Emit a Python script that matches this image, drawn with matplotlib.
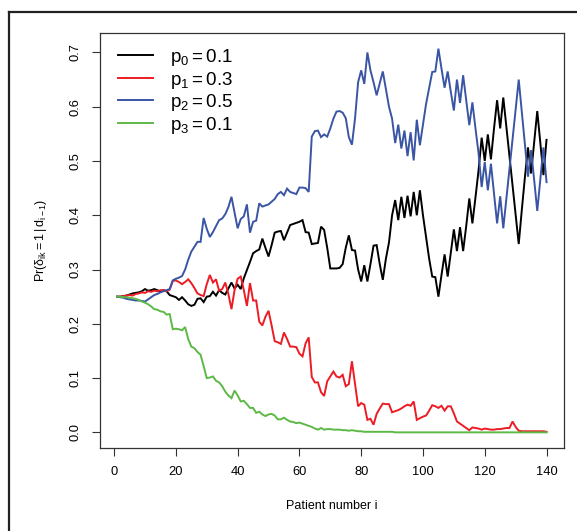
import matplotlib
matplotlib.use("Agg")
import matplotlib.pyplot as plt
from matplotlib.lines import Line2D
import numpy as np

plt.rcParams['font.family'] = ['Liberation Sans', 'DejaVu Sans']
plt.rcParams['mathtext.fontset'] = 'custom'
plt.rcParams['mathtext.rm'] = 'Liberation Sans'
plt.rcParams['mathtext.it'] = 'Liberation Sans:italic'
plt.rcParams['mathtext.default'] = 'regular'

patients = list(range(1, 141))

p0_black = [
    0.250, 0.250, 0.251, 0.252, 0.254, 0.256, 0.257, 0.258, 0.260, 0.264,
    0.261, 0.262, 0.264, 0.262, 0.259, 0.262, 0.260, 0.253, 0.251, 0.249,
    0.244, 0.249, 0.243, 0.236, 0.233, 0.235, 0.246, 0.247, 0.240, 0.250,
    0.251, 0.259, 0.252, 0.262, 0.257, 0.254, 0.265, 0.276, 0.265, 0.272,
    0.264, 0.284, 0.299, 0.314, 0.330, 0.334, 0.337, 0.357, 0.340, 0.324,
    0.345, 0.368, 0.370, 0.371, 0.354, 0.368, 0.382, 0.384, 0.386, 0.388,
    0.391, 0.369, 0.368, 0.347, 0.348, 0.349, 0.379, 0.373, 0.340, 0.302,
    0.302, 0.302, 0.303, 0.310, 0.340, 0.363, 0.336, 0.335, 0.300, 0.278,
    0.308, 0.278, 0.310, 0.344, 0.345, 0.310, 0.281, 0.320, 0.350, 0.400,
    0.428, 0.391, 0.434, 0.395, 0.436, 0.398, 0.443, 0.400, 0.446, 0.400,
    0.360, 0.320, 0.287, 0.286, 0.250, 0.290, 0.328, 0.287, 0.330, 0.374,
    0.334, 0.378, 0.334, 0.380, 0.431, 0.385, 0.433, 0.483, 0.543, 0.500,
    0.549, 0.503, 0.560, 0.612, 0.560, 0.617, 0.563, 0.509, 0.455, 0.401,
    0.347, 0.410, 0.470, 0.525, 0.477, 0.535, 0.592, 0.533, 0.474, 0.539,
]

p1_red = [
    0.250, 0.250, 0.251, 0.252, 0.253, 0.252, 0.255, 0.256, 0.258, 0.257,
    0.260, 0.259, 0.261, 0.260, 0.262, 0.262, 0.260, 0.263, 0.279, 0.280,
    0.277, 0.273, 0.277, 0.282, 0.275, 0.266, 0.256, 0.253, 0.251, 0.273,
    0.290, 0.276, 0.282, 0.261, 0.264, 0.276, 0.255, 0.227, 0.262, 0.283,
    0.287, 0.262, 0.233, 0.275, 0.243, 0.243, 0.204, 0.197, 0.213, 0.224,
    0.197, 0.168, 0.166, 0.163, 0.184, 0.172, 0.158, 0.158, 0.157, 0.145,
    0.140, 0.164, 0.175, 0.102, 0.092, 0.092, 0.074, 0.067, 0.094, 0.103,
    0.112, 0.103, 0.101, 0.106, 0.085, 0.089, 0.131, 0.090, 0.048, 0.054,
    0.051, 0.023, 0.025, 0.014, 0.034, 0.044, 0.053, 0.052, 0.052, 0.037,
    0.039, 0.041, 0.044, 0.048, 0.051, 0.049, 0.057, 0.023, 0.026, 0.029,
    0.031, 0.040, 0.050, 0.048, 0.045, 0.049, 0.040, 0.048, 0.048, 0.035,
    0.020, 0.016, 0.012, 0.008, 0.004, 0.009, 0.008, 0.007, 0.005, 0.007,
    0.006, 0.005, 0.005, 0.006, 0.006, 0.007, 0.008, 0.008, 0.020, 0.010,
    0.003, 0.002, 0.002, 0.002, 0.002, 0.002, 0.002, 0.002, 0.002, 0.001,
]

p2_blue = [
    0.250, 0.249, 0.248, 0.246, 0.245, 0.244, 0.243, 0.243, 0.242, 0.241,
    0.245, 0.249, 0.253, 0.255, 0.258, 0.260, 0.262, 0.264, 0.280, 0.283,
    0.285, 0.288, 0.300, 0.318, 0.333, 0.342, 0.351, 0.351, 0.395, 0.375,
    0.360, 0.369, 0.380, 0.391, 0.394, 0.402, 0.415, 0.434, 0.405, 0.376,
    0.393, 0.398, 0.420, 0.368, 0.388, 0.390, 0.422, 0.416, 0.418, 0.420,
    0.425, 0.430, 0.439, 0.443, 0.437, 0.449, 0.443, 0.441, 0.439, 0.451,
    0.451, 0.450, 0.443, 0.545, 0.555, 0.556, 0.544, 0.549, 0.545, 0.560,
    0.578, 0.591, 0.592, 0.589, 0.579, 0.544, 0.530, 0.578, 0.645, 0.667,
    0.642, 0.700, 0.667, 0.645, 0.621, 0.643, 0.665, 0.632, 0.600, 0.578,
    0.533, 0.567, 0.523, 0.556, 0.509, 0.553, 0.501, 0.576, 0.529, 0.567,
    0.605, 0.635, 0.664, 0.665, 0.707, 0.670, 0.635, 0.665, 0.628, 0.593,
    0.650, 0.607, 0.658, 0.612, 0.566, 0.608, 0.560, 0.514, 0.452, 0.498,
    0.446, 0.495, 0.440, 0.385, 0.435, 0.376, 0.430, 0.485, 0.540, 0.595,
    0.650, 0.590, 0.530, 0.471, 0.520, 0.465, 0.408, 0.466, 0.525, 0.461,
]

p3_green = [
    0.250, 0.250, 0.249, 0.249, 0.248, 0.247, 0.246, 0.244, 0.241, 0.239,
    0.236, 0.232, 0.227, 0.226, 0.223, 0.222, 0.217, 0.218, 0.190, 0.191,
    0.190, 0.188, 0.194, 0.172, 0.158, 0.155, 0.148, 0.143, 0.122, 0.100,
    0.101, 0.103, 0.095, 0.092, 0.085, 0.075, 0.068, 0.063, 0.077, 0.068,
    0.057, 0.058, 0.052, 0.045, 0.045, 0.036, 0.038, 0.033, 0.030, 0.033,
    0.034, 0.031, 0.024, 0.024, 0.027, 0.023, 0.020, 0.019, 0.017, 0.018,
    0.016, 0.014, 0.012, 0.010, 0.007, 0.005, 0.008, 0.005, 0.006, 0.006,
    0.005, 0.005, 0.005, 0.004, 0.004, 0.003, 0.004, 0.003, 0.002, 0.002,
    0.001, 0.001, 0.001, 0.001, 0.001, 0.001, 0.001, 0.001, 0.001, 0.001,
] + [0.000] * 50

labels = [r'$p_0 = 0.1$', r'$p_1 = 0.3$', r'$p_2 = 0.5$', r'$p_3 = 0.1$']
colors = ['#000000', '#EC1C24', '#3A55A4', '#5DB946']
series = [p0_black, p1_red, p2_blue, p3_green]

xticks = [0, 20, 40, 60, 80, 100, 120, 140]
yticks = [0.0, 0.1, 0.2, 0.3, 0.4, 0.5, 0.6, 0.7]

fig = plt.figure(figsize=(5.77, 5.31), dpi=100)
ax = fig.add_axes([100 / 577, 1 - 447.7 / 531, (563.7 - 100) / 577, (447.7 - 33.3) / 531])

for ys, c, lab in zip(series, colors, labels):
    ax.plot(patients, ys, color=c, lw=1.4, label=lab, solid_joinstyle='miter')

# R-style 4% padding
xmin, xmax = min(patients), max(patients)
dx = (xmax - xmin) * 0.04
ax.set_xlim(xmin - dx, xmax + dx)
ymax = max(max(s) for s in series)
dy = ymax * 0.04
ax.set_ylim(-dy, ymax + dy)

ax.set_xticks(xticks)
ax.set_xticklabels([str(t) for t in xticks])
ax.set_yticks(yticks)
ax.set_yticklabels([f'{t:.1f}' for t in yticks], rotation=90, va='center')
ax.tick_params(direction='out', length=6, width=0.8, labelsize=9.3, pad=7, color='#333333')
for s in ax.spines.values():
    s.set_linewidth(0.9)
    s.set_color('#333333')

ax.set_xlabel('Patient number i', fontsize=9, labelpad=16)
ax.set_ylabel(r'$Pr(\delta_{ik} = 1\,|\,d_{i-1})$', fontsize=9, labelpad=15)

leg = ax.legend(loc='upper left', frameon=False, fontsize=13.5, handlelength=1.9,
                handletextpad=0.9, labelspacing=0.08, borderaxespad=0.0,
                bbox_to_anchor=(0.022, 0.985))

# outer frame (top and left edges visible)
fig.add_artist(Line2D([9 / 577, 1.0], [1 - 12 / 531, 1 - 12 / 531], color='#222222', lw=1.6,
                      transform=fig.transFigure))
fig.add_artist(Line2D([9 / 577, 9 / 577], [0.0, 1 - 12 / 531], color='#222222', lw=1.6,
                      transform=fig.transFigure))

fig.savefig('out.png', dpi=100)
